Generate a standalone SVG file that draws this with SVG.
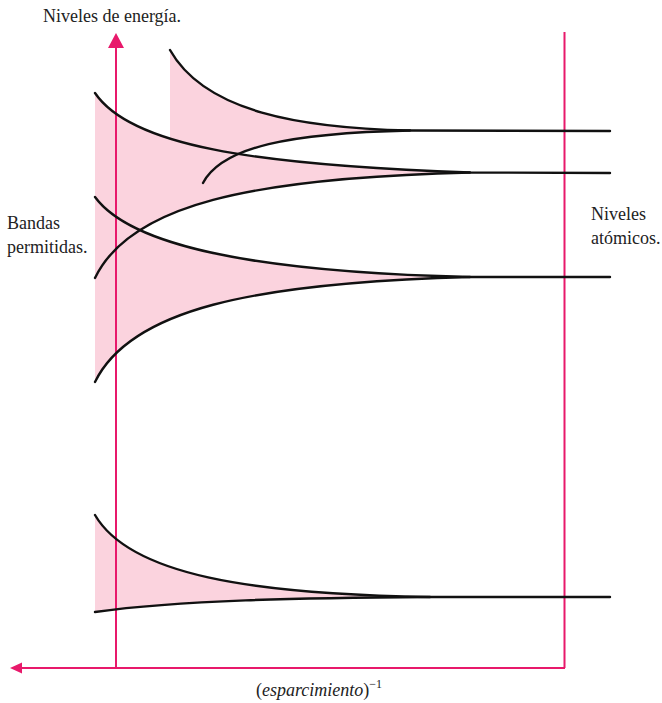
<svg xmlns="http://www.w3.org/2000/svg" width="662" height="703" viewBox="0 0 662 703">
<style>
.band{fill:#fbd3de;stroke:none}
.curve{fill:none;stroke:#111;stroke-width:2.4;stroke-linecap:round}
.axis{fill:none;stroke:#e8196b;stroke-width:2}
.arrow{fill:#e8196b}
.lbl{font-family:'Liberation Serif','DejaVu Serif','Noto Serif',Tinos,'Times New Roman',serif;font-size:18px;fill:#222}
</style>
<rect width="662" height="703" fill="#fff"/>
<g id="fills">
<path class="band" d="M170,50 C205,112 300,128 410,130.5 C290,133 225,145 203,183 L170,205 Z"/>
<path class="band" d="M95,93 C130,145 250,165 470,172.5 C250,178 130,205 95,278 Z"/>
<path class="band" d="M95,197 C130,245 250,272 470,277 C250,283 130,310 95,382 Z"/>
<path class="band" d="M95,515 C130,575 250,594 430,597 C300,598 180,600 95,612 Z"/>
</g>
<g id="axes">
<line class="axis" x1="116" y1="668" x2="116" y2="46"/>
<polygon class="arrow" points="116,33 108,48 124,48"/>
<line class="axis" x1="565" y1="668" x2="20" y2="668"/>
<polygon class="arrow" points="10,668 22,662.5 22,673.5"/>
<line class="axis" x1="564.5" y1="32" x2="564.5" y2="668"/>
</g>
<g id="curves">
<path class="curve" d="M170,50 C205,112 300,128 410,130.5 L610,131"/>
<path class="curve" d="M203,183 C222,147 290,133 410,130.5"/>
<path class="curve" d="M95,93 C130,145 250,165 470,172.5 L610,173"/>
<path class="curve" d="M95,278 C130,205 250,178 470,172.5"/>
<path class="curve" d="M95,197 C130,245 250,272 470,277 L610,277"/>
<path class="curve" d="M95,382 C130,310 250,283 470,277"/>
<path class="curve" d="M95,515 C130,575 250,594 430,597 L610,597"/>
<path class="curve" d="M95,612 C180,600 300,598 430,597"/>
</g>
<g id="labels">
<text class="lbl" x="43" y="22">Niveles de energía.</text>
<text class="lbl" x="7" y="229">Bandas</text>
<text class="lbl" x="7" y="253">permitidas.</text>
<text class="lbl" x="591" y="220">Niveles</text>
<text class="lbl" x="591" y="244">atómicos.</text>
<text class="lbl" x="256" y="696">(<tspan font-style="italic">esparcimiento</tspan>)<tspan dy="-8" font-size="12">−1</tspan></text>
</g>
</svg>
